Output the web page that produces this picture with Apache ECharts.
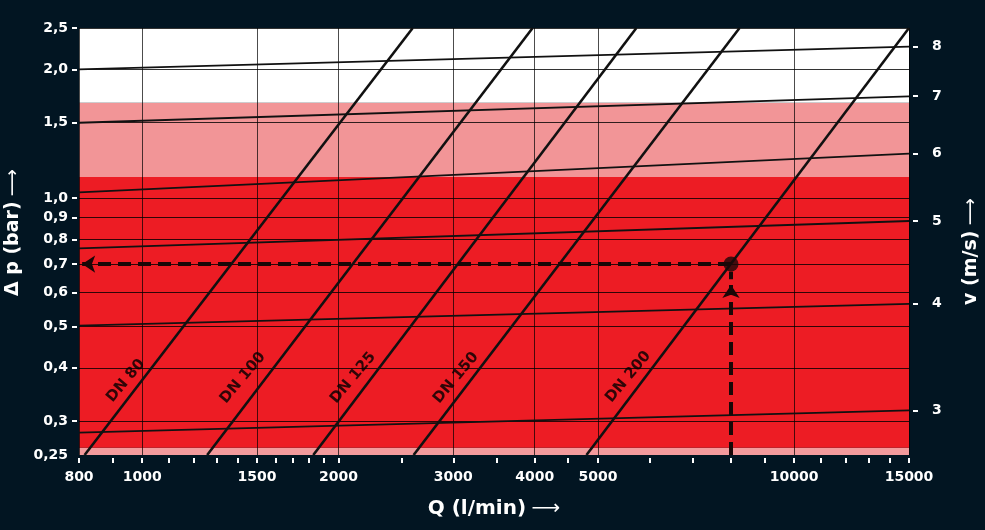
<!DOCTYPE html>
<html>
<head>
<meta charset="utf-8">
<script src="https://cdn.jsdelivr.net/npm/echarts@6/dist/echarts.min.js"></script>
<style>
html,body{margin:0;padding:0;background:#021522;}
#c{width:985px;height:530px;}
</style>
</head>
<body>
<div id="c"></div>
<script>
// ---------- data ----------
const xLabelValues = [800, 1000, 1500, 2000, 3000, 4000, 5000, 10000, 15000];
const xTickValues = [800, 900, 1000, 1100, 1200, 1300, 1400, 1500, 1600, 1700, 1800, 1900, 2000,
  2500, 3000, 3500, 4000, 4500, 5000, 6000, 7000, 8000, 9000, 10000, 11000, 12000, 13000, 14000, 15000];
const yLabelValues = [0.25, 0.3, 0.4, 0.5, 0.6, 0.7, 0.8, 0.9, 1.0, 1.5, 2.0, 2.5];
const yLabelTexts = ['0,25', '0,3', '0,4', '0,5', '0,6', '0,7', '0,8', '0,9', '1,0', '1,5', '2,0', '2,5'];
const yTickValues = [0.3, 0.4, 0.5, 0.6, 0.7, 0.8, 0.9, 1.0, 1.5, 2.0, 2.5];
const vTickValues = [3, 4, 5, 6, 7, 8];
const vAxisRange = [2.66, 8.41];

// pipe size lines (Δp ~ Q²): Q at 0.25 bar and Q at 2.5 bar
const dnNames = ['DN 80', 'DN 100', 'DN 125', 'DN 150', 'DN 200'];
const dnQAtLow = [816, 1258, 1830, 2608, 4802];
const dnQAtHigh = [2600, 3970, 5727, 8245, 15000];
const dnLabelQ = [944, 1427, 2106, 3029, 5566];
const dnLabelP = [0.373, 0.379, 0.379, 0.379, 0.381];

// constant velocity lines: Δp at Q = 800 and at Q = 15000
const vLineNames = ['3 m/s', '4 m/s', '5 m/s', '6 m/s', '7 m/s', '8 m/s'];
const vLineP800 = [0.282, 0.502, 0.762, 1.03, 1.5, 2.0];
const vLineP15000 = [0.318, 0.565, 0.883, 1.27, 1.73, 2.26];

// background zones (Δp limits) and colours
const zoneBounds = [0.25, 0.26, 1.12, 1.67, 2.5];
const zoneColors = ['#f39a9c', '#ed1c24', '#f29597', '#ffffff'];

// worked example
const examplePoint = [8000, 0.7];
const arrowTipQ = 809;
const arrowTipP = 0.625;
const shortDashP = [0.645, 0.672];

// ---------- chart ----------
const FONT = 'DejaVu Sans';
const chart = echarts.init(document.getElementById('c'));

const series = [];

series.push({
  name: 'zones', type: 'line', data: [], z: 0, silent: true,
  markArea: {
    silent: true, z: 0,
    data: zoneColors.map((c, i) => [
      { yAxis: zoneBounds[i], itemStyle: { color: c, opacity: 1 } },
      { yAxis: zoneBounds[i + 1] }
    ])
  }
});

vLineNames.forEach((n, i) => {
  series.push({
    name: n, type: 'line', z: 3, symbol: 'none', silent: true,
    data: [[800, vLineP800[i]], [15000, vLineP15000[i]]],
    lineStyle: { color: '#111', width: 1.8 }
  });
});

dnNames.forEach((n, i) => {
  series.push({
    name: n, type: 'line', z: 3, symbol: 'none', silent: true,
    data: [[dnQAtLow[i], 0.25], [dnQAtHigh[i], 2.5]],
    lineStyle: { color: '#111', width: 2.6 }
  });
});

series.push({
  name: 'dnLabels', type: 'scatter', z: 4, symbolSize: 0, silent: true,
  data: dnNames.map((n, i) => ({ name: n, value: [dnLabelQ[i], dnLabelP[i]] })),
  label: {
    show: true, position: 'inside', formatter: p => p.name, rotate: 50,
    color: '#000', fontFamily: FONT, fontWeight: 'bold', fontSize: 15
  }
});

series.push({
  name: 'example', type: 'scatter', z: 5, symbolSize: 15, silent: true,
  itemStyle: { color: '#1a0707' },
  data: [examplePoint],
  markLine: {
    silent: true, animation: false,
    symbol: ['none', 'arrow'], symbolSize: 13,
    label: { show: false },
    lineStyle: { color: '#1a0707', width: 4, type: [13, 7] },
    data: [
      [{ coord: examplePoint }, { coord: [arrowTipQ, examplePoint[1]] }],
      [{ coord: [examplePoint[0], 0.25] }, { coord: [examplePoint[0], arrowTipP] }],
      [{ coord: [examplePoint[0], shortDashP[0]], symbol: 'none' }, { coord: [examplePoint[0], shortDashP[1]], symbol: 'none' }]
    ]
  }
});

const labelStyle = { color: '#ffffff', fontFamily: FONT, fontWeight: 'bold', fontSize: 14 };
const nameRich = {
  t: { color: '#fff', fontFamily: FONT, fontWeight: 'bold', fontSize: 19 },
  a: { color: '#fff', fontFamily: FONT, fontWeight: 'normal', fontSize: 19 }
};

const option = {
  backgroundColor: '#021522',
  animation: false,
  grid: { left: 79, right: 76, top: 28, bottom: 75, outerBoundsMode: 'none', containLabel: false },
  xAxis: [
    {
      type: 'log', min: 800, max: 15000, position: 'bottom', z: 2,
      name: '{t|Q (l/min)} {a|⟶}', nameLocation: 'middle', nameGap: 44,
      nameTextStyle: { color: '#fff', fontSize: 20, rich: {
        t: { color: '#fff', fontFamily: FONT, fontWeight: 'bold', fontSize: 20 },
        a: { color: '#fff', fontFamily: FONT, fontWeight: 'normal', fontSize: 20 } } },
      axisLine: { show: false },
      axisTick: { show: false, customValues: xLabelValues },
      axisLabel: Object.assign({ customValues: xLabelValues, margin: 15, formatter: v => String(Math.round(v)) }, labelStyle),
      splitLine: { show: true, lineStyle: { color: 'rgba(0,0,0,0.7)', width: 1 } },
      minorTick: { show: false }, minorSplitLine: { show: false }
    },
    {
      type: 'log', min: 800, max: 15000, position: 'bottom', offset: 3, z: 2,
      axisLine: { show: false },
      axisTick: { show: true, customValues: xTickValues, length: 5, lineStyle: { color: '#fff', width: 2 } },
      axisLabel: { show: false },
      splitLine: { show: false }
    }
  ],
  yAxis: [
    {
      type: 'log', min: 0.25, max: 2.5, position: 'left', offset: 2, z: 2,
      name: '{t|Δ p (bar)} {a|⟶}', nameLocation: 'middle', nameGap: 52,
      nameTextStyle: { color: '#fff', fontSize: 19, padding: [0, 0, 0, 18], rich: nameRich },
      axisLine: { show: false },
      axisTick: { show: true, customValues: yTickValues, length: 5, lineStyle: { color: '#fff', width: 2 } },
      axisLabel: Object.assign({
        customValues: yLabelValues, margin: 9,
        formatter: v => {
          let best = 0;
          yLabelValues.forEach((t, i) => { if (Math.abs(t - v) < Math.abs(yLabelValues[best] - v)) best = i; });
          return yLabelTexts[best];
        }
      }, labelStyle),
      splitLine: { show: true, lineStyle: { color: 'rgba(0,0,0,0.8)', width: 1 } }
    },
    {
      type: 'log', min: vAxisRange[0], max: vAxisRange[1], position: 'right', offset: 4, z: 2,
      name: '{t|v (m/s)} {a|⟶}', nameLocation: 'middle', nameGap: 49,
      nameTextStyle: { color: '#fff', fontSize: 19, padding: [0, 20, 0, 0], rich: nameRich },
      axisLine: { show: false },
      axisTick: { show: true, customValues: vTickValues, length: 5, lineStyle: { color: '#fff', width: 2 } },
      axisLabel: Object.assign({ customValues: vTickValues, margin: 19, formatter: v => String(Math.round(v)) }, labelStyle),
      splitLine: { show: false }
    }
  ],
  series: series
};
chart.setOption(option);
</script>
</body>
</html>
